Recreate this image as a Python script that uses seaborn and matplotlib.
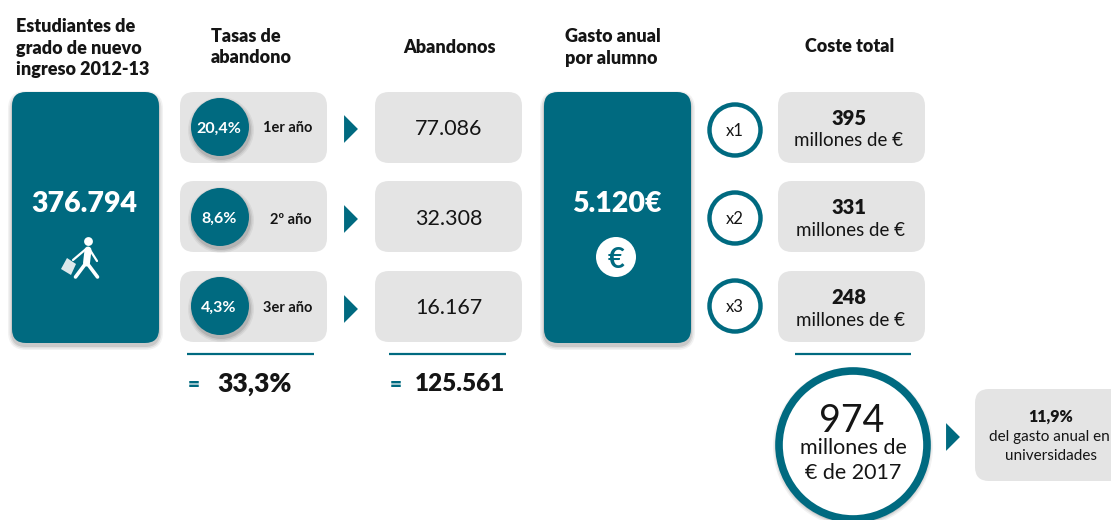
import matplotlib
matplotlib.use("Agg")
import matplotlib.pyplot as plt
import pandas as pd
import seaborn as sns
from matplotlib.patches import FancyBboxPatch, Circle, Polygon

# ---- content ----
headers = ["Estudiantes de\ngrado de nuevo\ningreso 2012-13", "Tasas de\nabandono", "Abandonos",
           "Gasto anual\npor alumno", "Coste total"]
students = "376.794"
rates = ["20,4%", "8,6%", "4,3%"]
years = ["1er año", "2º año", "3er año"]
dropouts = ["77.086", "32.308", "16.167"]
spend = "5.120€"
multipliers = ["x1", "x2", "x3"]
costs = ["395", "331", "248"]
cost_unit = "millones de €"
rate_total = "33,3%"
dropout_total = "125.561"
grand_total = "974"
grand_unit = ["millones de", "€ de 2017"]
share = "11,9%"
share_text = ["del gasto anual en", "universidades"]

TEAL = "#006a80"
GREY = "#e4e4e4"
INK = "#151515"

sns.set_theme(style="white")
plt.rcParams["font.family"] = ["Lato", "DejaVu Sans"]

fig = plt.figure(figsize=(11.11, 5.2), dpi=100)
ax = fig.add_axes([0, 0, 1, 1])
ax.set_xlim(0, 1111)
ax.set_ylim(520, 0)
ax.axis("off")


def box(x0, y0, x1, y1, color, rad=14, shadow=False):
    if shadow:
        for grow, a in [(4, 0.05), (2.5, 0.07), (1, 0.10)]:
            ax.add_patch(FancyBboxPatch((x0 - grow, y0 + 3 - grow), x1 - x0 + 2 * grow, y1 - y0 + 2 * grow,
                                        boxstyle=f"round,pad=0,rounding_size={rad + grow}",
                                        fc="#000000", ec="none", alpha=a, zorder=1))
    ax.add_patch(FancyBboxPatch((x0, y0), x1 - x0, y1 - y0, boxstyle=f"round,pad=0,rounding_size={rad}",
                                fc=color, ec="none", zorder=2))


def soft_circle(x, y, r, z=2):
    for grow, a in [(4, 0.05), (2.5, 0.07), (1, 0.10)]:
        ax.add_patch(Circle((x + 1, y + 3), r + grow, fc="#000000", ec="none", alpha=a, zorder=z))


def t(x, y, s, size, weight="normal", color=INK, ha="center", z=6):
    ax.text(x, y, s, fontsize=size, fontweight=weight, color=color, ha=ha, va="center_baseline", zorder=z)


def lines(x, ys, texts, size, weight="bold", ha="left"):
    for y, s in zip(ys, texts):
        t(x, y, s, size, weight, ha=ha)


# headers
lines(16, [25, 47, 68], headers[0].split("\n"), 13, "heavy")
lines(211, [35, 56], headers[1].split("\n"), 13, "heavy")
t(449, 46, headers[2], 13, "heavy")
lines(565, [35, 57], headers[3].split("\n"), 13, "heavy")
t(850, 45, headers[4], 13, "heavy")

# teal panels
box(12, 92, 159, 343, TEAL, shadow=True)
box(544, 92, 691, 343, TEAL, shadow=True)
t(84, 201, students, 20.5, "heavy", "white")
t(617, 201, spend, 20.5, "heavy", "white")

# walker icon
ax.add_patch(Circle((88.5, 241.5), 4.4, fc="white", ec="none", zorder=6))
ax.plot([88, 86.5], [250, 263], color="white", lw=5, solid_capstyle="round", zorder=6)
ax.plot([86, 75.5], [263, 277], color="white", lw=2.6, zorder=6)
ax.plot([87, 97.5], [263, 277], color="white", lw=2.6, zorder=6)
ax.plot([86, 73], [249, 260], color="white", lw=1.6, zorder=6)
ax.plot([90, 97], [250, 261], color="white", lw=1.6, zorder=6)
ax.add_patch(Polygon([(67, 258), (76, 264), (71, 275), (61, 269)], closed=True,
                     fc="#dce8eb", ec="none", zorder=6))

# euro badge
ax.add_patch(Circle((616, 257), 20, fc="white", ec="none", zorder=6))
t(616, 257, "€", 21, "bold", TEAL, z=7)

# rows
rows_top = [92, 181, 271]
rows_mid = [127, 217, 306]
rows_arrow = [129, 219, 309]
ring_y = [130, 218, 306]
cost_y = [117, 206, 296]
unit_y = [139, 229, 319]
unit_x = [848, 851, 851]
for top, mid, drop in zip(rows_top, rows_mid, dropouts):
    box(180, top, 327, top + 71, GREY)
    box(375, top, 522, top + 71, GREY)
    box(778, top, 925, top + 71, GREY)
    t(449, mid, drop, 15.5)

for cy, uy, ux, cost in zip(cost_y, unit_y, unit_x, costs):
    t(849, cy, cost, 14.5, "heavy")
    t(ux, uy, cost_unit, 13.5)

year_y = [127, 219, 307]
for y, yy, rate, year in zip(rows_mid, year_y, rates, years):
    soft_circle(220, y, 29)
    t(219, y, rate, 11.5, "bold", "white")
    t(312, yy, year, 10.5, "bold", ha="right")

# teal discs and arrows through seaborn
discs = pd.DataFrame({"x": [220] * 3, "y": rows_mid})
sns.scatterplot(data=discs, x="x", y="y", ax=ax, s=1745, color=TEAL, edgecolor="none", legend=False, zorder=4)
arrow = [(-0.5, -1), (0.5, 0), (-0.5, 1)]
arrows = pd.DataFrame({"x": [351, 351, 351, 953], "y": rows_arrow + [437]})
sns.scatterplot(data=arrows, x="x", y="y", ax=ax, marker=arrow, s=400, color=TEAL,
                edgecolor="none", legend=False, zorder=4)
ax.set_xlim(0, 1111)
ax.set_ylim(520, 0)
ax.set_xlabel("")
ax.set_ylabel("")
ax.axis("off")

# ring multipliers
for y, m in zip(ring_y, multipliers):
    ax.add_patch(Circle((735, y), 25.5, fc="white", ec=TEAL, lw=3.2, zorder=4))
    t(735, y, m, 12)

# rules and totals
for x0, x1 in [(187, 314), (389, 506), (795, 911)]:
    ax.plot([x0, x1], [354, 354], color=TEAL, lw=1.6, solid_capstyle="butt", zorder=3)
t(188, 383, "=", 15, "heavy", TEAL, ha="left")
t(217, 382, rate_total, 19, "heavy", ha="left")
t(390, 383, "=", 15, "heavy", TEAL, ha="left")
t(415, 382, dropout_total, 17.5, "heavy", ha="left")

# grand total
soft_circle(852, 444, 76)
ax.add_patch(Circle((853, 445), 74, fc="white", ec=TEAL, lw=5.5, zorder=4))
t(852, 417, grand_total, 27)
t(853, 446, grand_unit[0], 15.5)
t(853, 471, grand_unit[1], 15.5)

box(975, 389, 1125, 481, GREY)
t(1051, 415, share, 11.5, "heavy")
t(1049, 436, share_text[0], 11)
t(1051, 455, share_text[1], 11)

fig.savefig("out.png", dpi=100, facecolor="white")
